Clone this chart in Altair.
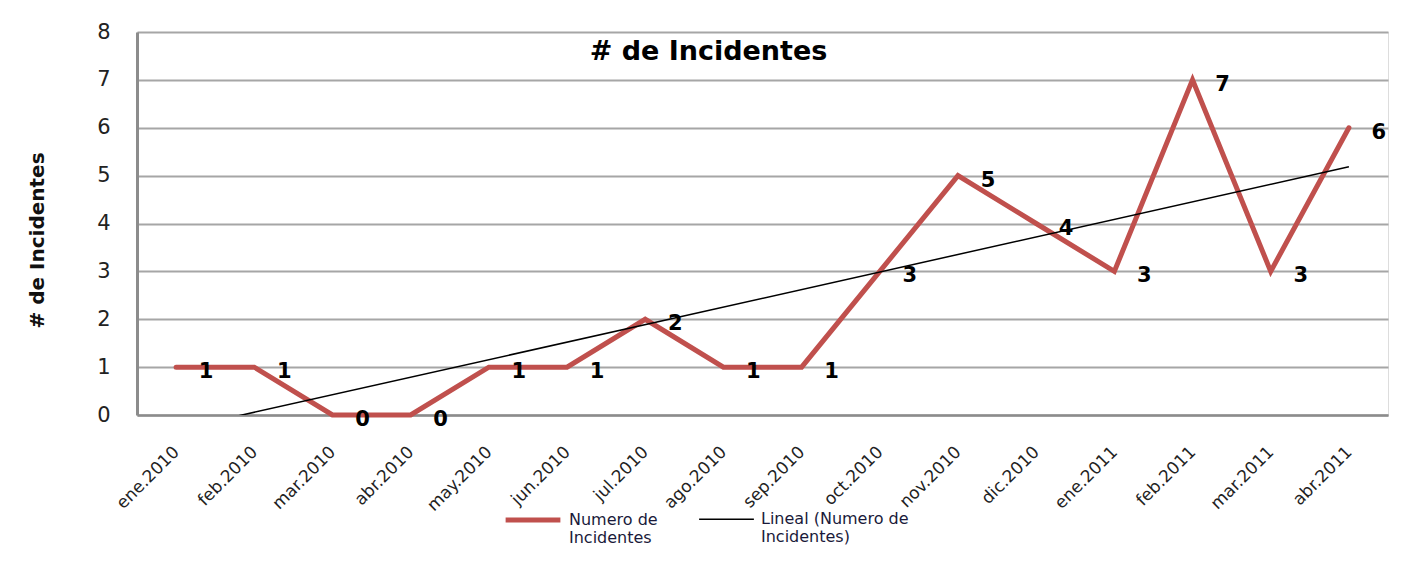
import altair as alt
import pandas as pd

months = ["ene.2010", "feb.2010", "mar.2010", "abr.2010", "may.2010", "jun.2010",
          "jul.2010", "ago.2010", "sep.2010", "oct.2010", "nov.2010", "dic.2010",
          "ene.2011", "feb.2011", "mar.2011", "abr.2011"]
incidents = [1, 1, 0, 0, 1, 1, 2, 1, 1, 3, 5, 4, 3, 7, 3, 6]
series_main = "Numero de Incidentes"
series_trend = "Lineal (Numero de Incidentes)"

df = pd.DataFrame({"idx": list(range(len(months))), "mes": months, "valor": incidents,
                   "serie": series_main})

FONT = "DejaVu Sans"
label_js = "[" + ",".join("'%s'" % m for m in months) + "]"

x = alt.X("idx:Q", scale=alt.Scale(domain=[-0.5, len(months) - 0.5], nice=False, zero=False),
          axis=alt.Axis(values=list(range(len(months))), labelExpr=label_js + "[datum.value]",
                        labelAngle=315, labelAlign="right", labelBaseline="middle",
                        labelPadding=34, labelFontSize=17, labelFont=FONT, labelColor="#222",
                        ticks=False, grid=False, domainColor="#8c8c8c", domainWidth=2.5,
                        title=None, labelOverlap=False))
y = alt.Y("valor:Q", scale=alt.Scale(domain=[0, 8], nice=False),
          axis=alt.Axis(values=list(range(9)), labelFontSize=21, labelFont=FONT, labelColor="#222",
                        labelPadding=27, ticks=False, grid=True, gridColor="#a6a6a6", gridWidth=2,
                        domainColor="#8c8c8c", domainWidth=3,
                        title="# de Incidentes", titleFont=FONT, titleFontSize=20,
                        titleFontWeight="bold", titleColor="#111", titleX=-100, titleY=208,
                        titleAlign="center", titleBaseline="middle", titleAngle=270))

color = alt.Color("serie:N", scale=alt.Scale(domain=[series_main, series_trend],
                                               range=["#C0504D", "#000000"]),
                  legend=alt.Legend(orient="none", legendX=366, legendY=458, direction="horizontal",
                                    title=None, symbolType="stroke", symbolSize=3000,
                                    labelFont=FONT, labelFontSize=16, labelColor="#1a1a3a",
                                    labelOffset=6, columnPadding=38, labelLimit=300,
                                    labelBaseline="middle",
                                    labelExpr="datum.label == '" + series_main +
                                              "' ? ['Numero de', 'Incidentes'] : ['Lineal (Numero de', 'Incidentes)']"))
sw = alt.StrokeWidth("serie:N", scale=alt.Scale(domain=[series_main, series_trend], range=[5, 1.5]),
                     legend=None)

base = alt.Chart(df)
line = base.mark_line(strokeCap="round", strokeJoin="miter").encode(x=x, y=y, color=color, strokeWidth=sw)
trend = base.transform_regression("idx", "valor").transform_calculate(
    serie="'" + series_trend + "'").mark_line(clip=True).encode(
    x=x, y=y, color=color, strokeWidth=sw)
labels = base.mark_text(dx=30, dy=5, fontSize=21, fontWeight="bold", font=FONT, color="#000").encode(
    x=x, y=y, text="valor:Q")

chart = alt.layer(line, trend, labels).properties(
    width=1251, height=383,
    title=alt.TitleParams("# de Incidentes", font=FONT, fontSize=27, fontWeight="bold", color="#000",
                          anchor="middle", dx=-54, dy=45, offset=0),
    autosize=alt.AutoSizeParams(type="none"),
    padding={"left": 129, "top": 24, "right": 18, "bottom": 150},
).configure_view(stroke=None).configure(background="white")

chart.save("out.html", embed_options={"renderer": "svg", "actions": False})
